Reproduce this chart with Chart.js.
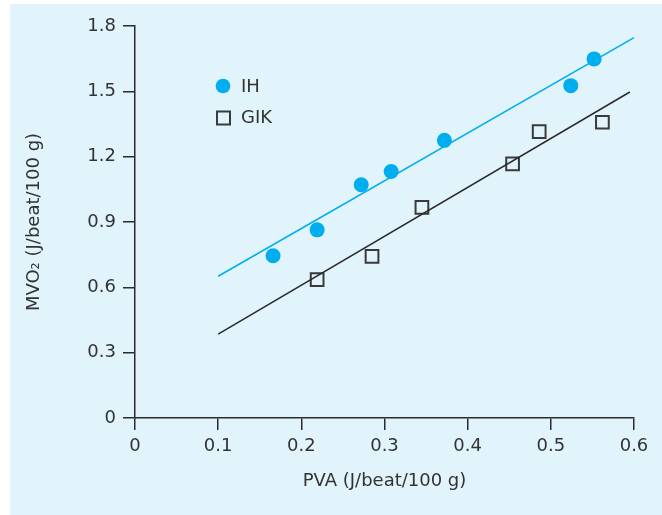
<!DOCTYPE html>
<html>
<head>
<meta charset="utf-8">
<title>MVO2 vs PVA</title>
<script src="https://cdn.jsdelivr.net/npm/chart.js@4.4.1/dist/chart.umd.min.js"></script>
<style>
  html, body { margin: 0; padding: 0; background: #ffffff; }
  #wadah { width: 662px; height: 515px; }
</style>
</head>
<body>
<div id="wadah"><canvas id="chartMvo" width="662" height="515"></canvas></div>
<script>
// ── Data ──
const seriesNames = ['IH', 'GIK'];

// IH (filled circles)
const ihPva = [0.166, 0.219, 0.272, 0.308, 0.372, 0.524, 0.552];
const ihMvo = [0.745, 0.864, 1.071, 1.132, 1.275, 1.526, 1.649];

// GIK (open squares)
const gikPva = [0.219, 0.285, 0.345, 0.454, 0.486, 0.562];
const gikMvo = [0.635, 0.742, 0.967, 1.167, 1.315, 1.358];

// regression lines (end points)
const ihFitPva  = [0.1, 0.6];
const ihFitMvo  = [0.651, 1.746];
const gikFitPva = [0.1, 0.595];
const gikFitMvo = [0.385, 1.497];

// axis ticks
const xTicks = [0, 0.1, 0.2, 0.3, 0.4, 0.5, 0.6];
const yTicks = [0, 0.3, 0.6, 0.9, 1.2, 1.5, 1.8];

// ── Styling ──
const warnaBiru   = '#00aeef';
const warnaGaris  = '#2b2b2b';
const warnaTeks   = '#333333';
const warnaPanel  = '#e1f3fb';
const hurufTeks   = "'DejaVu Sans', sans-serif";

const gabung = (xs, ys) => xs.map((x, i) => ({ x: x, y: ys[i] }));

// light blue panel behind the whole figure
const panelLatar = {
  id: 'panelLatar',
  beforeDraw(chart) {
    const c = chart.ctx;
    c.save();
    c.fillStyle = warnaPanel;
    c.fillRect(10, 4, chart.width - 10, chart.height - 4);
    c.restore();
  }
};

// legend drawn inside the plot, upper left
const legendaDalam = {
  id: 'legendaDalam',
  afterDraw(chart) {
    const c = chart.ctx;
    const a = chart.chartArea;
    const x0 = a.left + 88;
    const y0 = a.top + 60;
    c.save();
    // circle for IH
    c.fillStyle = warnaBiru;
    c.beginPath();
    c.arc(x0, y0, 7.3, 0, Math.PI * 2);
    c.fill();
    // square for GIK
    c.strokeStyle = '#3a3a3a';
    c.lineWidth = 2;
    c.strokeRect(x0 - 6, y0 + 25.5, 13, 13);
    // labels
    c.fillStyle = warnaTeks;
    c.font = '18px ' + hurufTeks;
    c.textBaseline = 'middle';
    c.textAlign = 'left';
    c.fillText(seriesNames[0], x0 + 18, y0 + 1);
    c.fillText(seriesNames[1], x0 + 18, y0 + 32);
    c.restore();
  }
};

const ctx = document.getElementById('chartMvo').getContext('2d');
new Chart(ctx, {
  type: 'scatter',
  data: {
    datasets: [
      {
        label: 'IH fit',
        data: gabung(ihFitPva, ihFitMvo),
        showLine: true,
        borderColor: warnaBiru,
        borderWidth: 1.5,
        pointRadius: 0
      },
      {
        label: 'GIK fit',
        data: gabung(gikFitPva, gikFitMvo),
        showLine: true,
        borderColor: warnaGaris,
        borderWidth: 1.5,
        pointRadius: 0
      },
      {
        label: seriesNames[0],
        data: gabung(ihPva, ihMvo),
        pointStyle: 'circle',
        pointRadius: 7.5,
        pointBackgroundColor: warnaBiru,
        pointBorderWidth: 0
      },
      {
        label: seriesNames[1],
        data: gabung(gikPva, gikMvo),
        pointStyle: 'rect',
        pointRadius: 9,
        pointBackgroundColor: 'rgba(0,0,0,0)',
        pointBorderColor: '#3a3a3a',
        pointBorderWidth: 2
      }
    ]
  },
  options: {
    responsive: false,
    animation: false,
    devicePixelRatio: 1,
    layout: { padding: { left: 0, top: 26, right: 28, bottom: 0 } },
    plugins: {
      legend: { display: false },
      tooltip: { enabled: false }
    },
    scales: {
      x: {
        type: 'linear',
        min: 0,
        max: 0.6,
        afterBuildTicks: s => { s.ticks = xTicks.map(v => ({ value: v })); },
        afterFit: s => { s.height = 97; },
        ticks: {
          callback: v => String(v),
          font: { family: hurufTeks, size: 18 },
          color: warnaTeks,
          padding: 6,
          maxRotation: 0,
          autoSkip: false
        },
        grid: { drawOnChartArea: false, drawTicks: true, tickLength: 12, color: warnaGaris, lineWidth: 1.5 },
        border: { display: true, color: warnaGaris, width: 1.5 },
        title: {
          display: true,
          text: 'PVA (J/beat/100 g)',
          font: { family: hurufTeks, size: 18 },
          color: warnaTeks,
          padding: { top: 0, bottom: 23 }
        }
      },
      y: {
        type: 'linear',
        min: 0,
        max: 1.8,
        afterBuildTicks: s => { s.ticks = yTicks.map(v => ({ value: v })); },
        afterFit: s => { s.width = 135; },
        ticks: {
          callback: v => String(v),
          font: { family: hurufTeks, size: 18 },
          color: warnaTeks,
          padding: 7,
          autoSkip: false
        },
        grid: { drawOnChartArea: false, drawTicks: true, tickLength: 12, color: warnaGaris, lineWidth: 1.5 },
        border: { display: true, color: warnaGaris, width: 1.5 },
        title: {
          display: true,
          text: 'MVO\u2082 (J/beat/100 g)',
          font: { family: hurufTeks, size: 18 },
          color: warnaTeks,
          padding: { top: 24, bottom: 0 }
        }
      }
    }
  },
  plugins: [panelLatar, legendaDalam]
});
</script>
</body>
</html>
